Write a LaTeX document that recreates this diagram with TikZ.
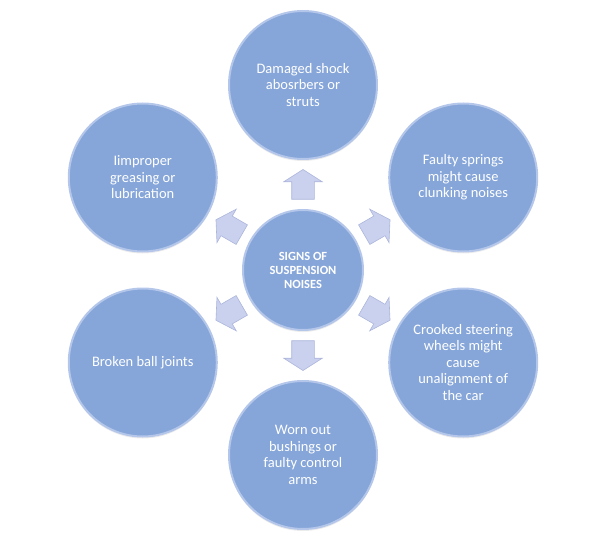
\documentclass[tikz,border=0pt]{standalone}
\usepackage{fontspec}
\setmainfont{Carlito}
\usetikzlibrary{shapes.arrows,shadows}

\definecolor{ballblue}{RGB}{134,166,217}
\definecolor{ballrim}{RGB}{180,199,234}
\definecolor{arrowfill}{RGB}{202,209,238}
\definecolor{arrowedge}{RGB}{172,182,220}

\tikzset{
  ball/.style={circle, fill=ballblue, draw=ballrim, line width=2pt,
    minimum size=148pt, inner sep=0pt, text=white, align=center,
    font=\fontsize{14.5}{16.5}\selectfont,
    drop shadow={opacity=0.15, shadow xshift=0pt, shadow yshift=-2pt}},
  hub/.style={ball, minimum size=120pt, font=\fontsize{12.5}{14}\selectfont\bfseries},
  blockarrow/.style={single arrow, fill=arrowfill, draw=arrowedge, line width=0.6pt,
    minimum height=25pt, inner sep=11pt, single arrow head extend=8pt,
    single arrow tip angle=115}
}

\begin{document}
\begin{tikzpicture}[x=1pt, y=1pt]
    \useasboundingbox (-303,-276) rectangle (304,270);

    % Centre
    \node[hub] (signs) at (0,0) {SIGNS OF\\SUSPENSION\\NOISES};

    % Causes round the centre
    \node[ball] (shock)    at (90:185)  {Damaged shock\\abosrbers or\\struts};
    \node[ball] (springs)  at (30:185)  {Faulty springs\\might cause\\clunking noises};
    \node[ball] (steering) at (-30:185) {Crooked steering\\wheels might\\cause\\unalignment of\\the car};
    \node[ball] (bushings) at (-90:185) {Worn out\\bushings or\\faulty control\\arms};
    \node[ball] (joints)   at (210:185) {Broken ball joints};
    \node[ball] (grease)   at (150:185) {Iimproper\\greasing or\\lubrication};

    % Block arrows
    \foreach \a in {90, 30, -30, -90, 210, 150}
        \node[blockarrow, rotate=\a] (arrow\a) at (\a:82) {};
\end{tikzpicture}
\end{document}
